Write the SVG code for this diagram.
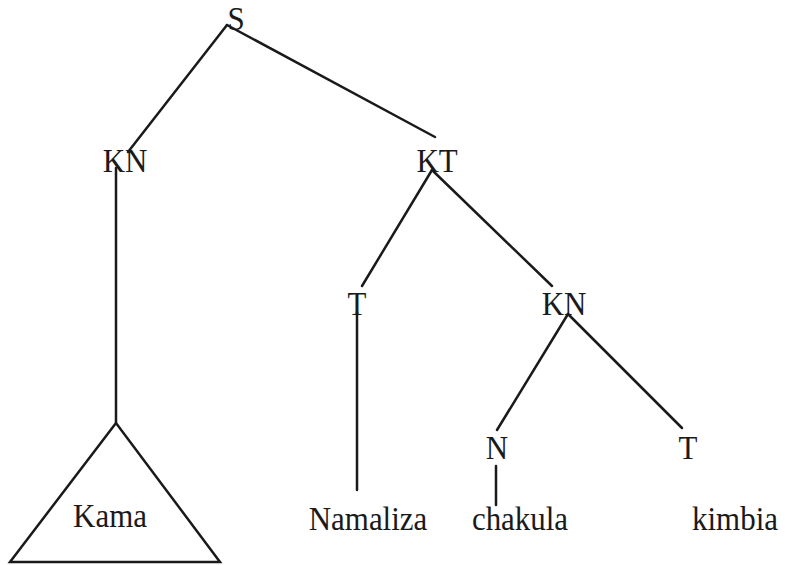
<svg xmlns="http://www.w3.org/2000/svg" width="785" height="565" viewBox="0 0 785 565">
<style>
text{font-family:"Liberation Serif","Times New Roman",serif;font-size:34px;fill:#1a1a1a;text-anchor:middle}
.e{stroke:#1a1a1a;stroke-width:2.5;fill:none;stroke-linecap:round}
</style>
<rect width="785" height="565" fill="#ffffff"/>
<g id="connectors" class="e">
<line x1="227" y1="25" x2="128" y2="152"/>
<line x1="227" y1="25" x2="435" y2="137"/>
<line x1="116" y1="168" x2="116" y2="423"/>
<line x1="432" y1="170" x2="362" y2="286"/>
<line x1="432" y1="170" x2="552" y2="286"/>
<line x1="357" y1="312" x2="357" y2="490"/>
<line x1="568" y1="314" x2="497" y2="430"/>
<line x1="568" y1="314" x2="682" y2="428"/>
<line x1="496" y1="466" x2="496" y2="505"/>
</g>
<g id="node-S"><text transform="translate(236,30) scale(0.91,1)">S</text></g>
<g id="node-KN"><text transform="translate(125,172) scale(0.91,1)">KN</text></g>
<g id="node-KT"><text transform="translate(437,172) scale(0.91,1)">KT</text></g>
<g id="node-T"><text transform="translate(357,315) scale(0.91,1)">T</text></g>
<g id="node-KN2"><text transform="translate(564,315) scale(0.91,1)">KN</text></g>
<g id="node-N"><text transform="translate(497,459) scale(0.91,1)">N</text></g>
<g id="node-T2"><text transform="translate(688,459) scale(0.91,1)">T</text></g>
<g id="node-Kama"><polygon class="e" points="116,423 10,562 220,562" stroke-linejoin="miter"/><text transform="translate(110,527) scale(0.91,1)">Kama</text></g>
<g id="node-Namaliza"><text transform="translate(368,530) scale(0.91,1)">Namaliza</text></g>
<g id="node-chakula"><text transform="translate(520,530) scale(0.91,1)">chakula</text></g>
<g id="node-kimbia"><text transform="translate(735,530) scale(0.91,1)">kimbia</text></g>
</svg>
